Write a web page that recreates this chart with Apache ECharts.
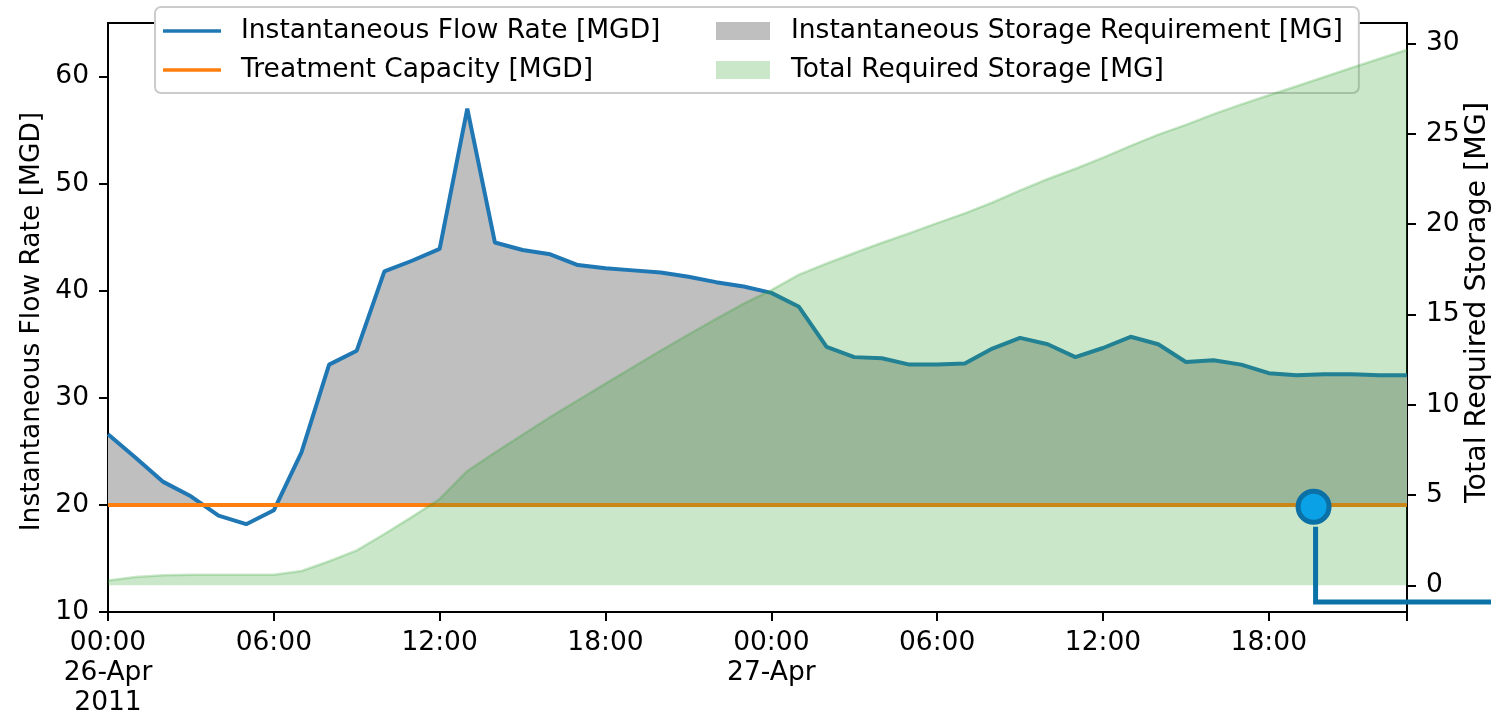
<!DOCTYPE html>
<html>
<head>
<meta charset="utf-8">
<script src="https://cdn.jsdelivr.net/npm/echarts@6/dist/echarts.min.js"></script>
<style>
html,body{margin:0;padding:0;background:#fff;}
#chart{width:1491px;height:712px;}
</style>
</head>
<body>
<div id="chart"></div>
<script>
// ---------------- data ----------------
const startTime = '2011-04-26 00:00';
const hoursSinceStart = [0,1,2,3,4,5,6,7,8,9,10,11,12,13,14,15,16,17,18,19,20,21,22,23,
                         24,25,26,27,28,29,30,31,32,33,34,35,36,37,38,39,40,41,42,43,44,45,46,47];
const flowMGD = [26.6,24.4,22.15,20.8,19.0,18.2,19.5,24.9,33.1,34.4,41.8,42.8,43.9,57.0,44.5,43.8,
                 43.4,42.4,42.1,41.9,41.7,41.3,40.8,40.4,39.8,38.5,34.75,33.8,33.7,33.1,33.1,33.2,
                 34.6,35.6,35.0,33.8,34.65,35.7,35.0,33.35,33.5,33.1,32.3,32.1,32.2,32.2,32.1,32.1];
const capacityMGD = [20,20,20,20,20,20,20,20,20,20,20,20,20,20,20,20,20,20,20,20,20,20,20,20,
                     20,20,20,20,20,20,20,20,20,20,20,20,20,20,20,20,20,20,20,20,20,20,20,20];
const totalStorageMG = [0.27,0.46,0.55,0.58,0.58,0.58,0.58,0.79,1.33,1.93,2.84,3.79,4.78,6.33,7.35,8.34,
                        9.32,10.25,11.17,12.09,13.0,13.89,14.75,15.6,16.35,17.2,17.82,18.4,18.97,19.5,20.06,20.6,
                        21.2,21.87,22.5,23.07,23.68,24.34,24.96,25.5,26.09,26.63,27.14,27.64,28.15,28.66,29.16,29.66];
const xTickHours = [0,6,12,18,24,30,36,42];
const xTickMarks = [0,6,12,18,24,30,36,42,47];
const xTickLabels = ['00:00\n26-Apr\n2011','06:00','12:00','18:00','00:00\n27-Apr','06:00','12:00','18:00'];
const flowTicks = [10,20,30,40,50,60];
const storageTicks = [0,5,10,15,20,25,30];
const callout = {hour: 43.62, flow: 19.83, dropFlow: 10.93};

const names = {
  flow: 'Instantaneous Flow Rate [MGD]',
  cap: 'Treatment Capacity [MGD]',
  req: 'Instantaneous Storage Requirement [MG]',
  total: 'Total Required Storage [MG]'
};

// ---------------- chart ----------------
const FONT = 'DejaVu Sans';
const FS = 26.5;
const pair = (xs, ys) => xs.map((x, i) => [x, ys[i]]);

const chart = echarts.init(document.getElementById('chart'), null, {renderer: 'canvas'});

const lineIcon = 'path://M0,0H58V3.6H0Z';
const patchIcon = 'path://M0,0H54V18H0Z';

const option = {
  animation: false,
  backgroundColor: '#fff',
  textStyle: {fontFamily: FONT},
  grid: {left: 108, right: 84, top: 23, bottom: 100, outerBoundsMode: 'none', containLabel: false,
         show: true, borderColor: '#000', borderWidth: 2, backgroundColor: 'transparent'},
  legend: {
    orient: 'vertical', left: 155, top: 7, height: 72,
    itemGap: 9, itemWidth: 58, itemHeight: 18,
    padding: [9, 16, 8, 8],
    backgroundColor: '#fff', borderColor: '#cccccc', borderWidth: 2, borderRadius: 6,
    textStyle: {fontFamily: FONT, fontSize: FS, color: '#000', lineHeight: 30},
    data: [
      {name: names.flow, icon: lineIcon, itemStyle: {color: '#1f77b4', borderWidth: 0}, textStyle: {width: 464, padding: [0,0,0,15]}},
      {name: names.cap, icon: lineIcon, itemStyle: {color: '#ff7f0e', borderWidth: 0}, textStyle: {width: 464, padding: [0,0,0,15]}},
      {name: names.req, icon: patchIcon, itemStyle: {color: '#bfbfbf', borderWidth: 0}, textStyle: {padding: [0,0,0,14]}},
      {name: names.total, icon: patchIcon, itemStyle: {color: 'rgba(44,160,44,0.25)', borderWidth: 0}, textStyle: {padding: [0,0,0,14]}}
    ]
  },
  visualMap: {
    show: false, type: 'piecewise', seriesIndex: 0, dimension: 1,
    pieces: [{gt: 20, lte: 1000, color: '#bfbfbf'}, {gte: -1000, lte: 20, color: 'rgba(255,255,255,0)'}],
    outOfRange: {color: 'rgba(255,255,255,0)'}
  },
  xAxis: {
    type: 'value', min: 0, max: 47,
    axisLine: {show: true, onZero: false, lineStyle: {color: '#000', width: 2}},
    axisTick: {show: true, length: 9, lineStyle: {color: '#000', width: 2}, customValues: xTickMarks},
    axisLabel: {
      customValues: xTickHours, margin: 16,
      fontFamily: FONT, fontSize: FS, color: '#000', lineHeight: 30,
      formatter: v => xTickLabels[xTickHours.indexOf(v)]
    },
    splitLine: {show: false}
  },
  yAxis: [
    {
      type: 'value', min: 10, max: 65, position: 'left',
      name: names.flow, nameLocation: 'middle', nameGap: 62, nameRotate: 90, nameMoveOverlap: false,
      nameTextStyle: {fontFamily: FONT, fontSize: FS, color: '#000', padding: [0, 8, 0, 0]},
      axisLine: {show: true, onZero: false, lineStyle: {color: '#000', width: 2}},
      axisTick: {show: true, length: 9, lineStyle: {color: '#000', width: 2}, customValues: flowTicks},
      axisLabel: {customValues: flowTicks, margin: 19, fontFamily: FONT, fontSize: FS, color: '#000'},
      splitLine: {show: false}
    },
    {
      type: 'value', min: -1.48, max: 31.14, position: 'right',
      name: names.total, nameLocation: 'middle', nameGap: 56, nameRotate: 90, nameMoveOverlap: false,
      nameTextStyle: {fontFamily: FONT, fontSize: 28.5, color: '#000', padding: [0, 0, 0, 30]},
      axisLine: {show: true, onZero: false, lineStyle: {color: '#000', width: 2}},
      axisTick: {show: true, length: 9, lineStyle: {color: '#000', width: 2}, customValues: storageTicks},
      axisLabel: {customValues: storageTicks, margin: 19, fontFamily: FONT, fontSize: FS, color: '#000'},
      splitLine: {show: false}
    }
  ],
  series: [
    {
      name: names.req, type: 'line', yAxisIndex: 0, data: pair(hoursSinceStart, flowMGD),
      symbol: 'none', lineStyle: {width: 0, opacity: 0},
      areaStyle: {origin: 20, opacity: 1}, z: 1
    },
    {
      name: names.flow, type: 'line', yAxisIndex: 0, data: pair(hoursSinceStart, flowMGD),
      symbol: 'none', color: '#1f77b4', lineStyle: {width: 4, color: '#1f77b4'}, z: 2
    },
    {
      name: names.cap, type: 'line', yAxisIndex: 0, data: pair(hoursSinceStart, capacityMGD),
      symbol: 'none', color: '#ff7f0e', lineStyle: {width: 4, color: '#ff7f0e'}, z: 3,
      markPoint: {
        symbol: 'circle', symbolSize: 31, silent: true,
        itemStyle: {color: '#0aa1e6', borderColor: '#0b70a5', borderWidth: 5},
        label: {show: false},
        data: [{coord: [callout.hour, callout.flow]}],
        z: 20
      }
    },
    {
      name: names.total, type: 'line', yAxisIndex: 1, data: pair(hoursSinceStart, totalStorageMG),
      symbol: 'none', color: 'rgba(44,160,44,0.25)',
      lineStyle: {width: 2.5, color: 'rgba(44,160,44,0.25)'},
      areaStyle: {color: 'rgba(44,160,44,0.25)', opacity: 1}, z: 4
    }
  ]
};
chart.setOption(option);

// callout connector, positioned from the data coordinates
const p0 = chart.convertToPixel({xAxisIndex: 0, yAxisIndex: 0}, [callout.hour, callout.flow]);
const p1 = chart.convertToPixel({xAxisIndex: 0, yAxisIndex: 0}, [callout.hour, callout.dropFlow]);
chart.setOption({
  graphic: [{
    type: 'polyline', z: 15, silent: true,
    shape: {points: [[p0[0] + 2, p0[1] + 20], [p0[0] + 2, p1[1]], [chart.getWidth(), p1[1]]]},
    style: {stroke: '#0b72a8', lineWidth: 5, fill: null, lineJoin: 'miter'}
  }]
});
</script>
</body>
</html>
